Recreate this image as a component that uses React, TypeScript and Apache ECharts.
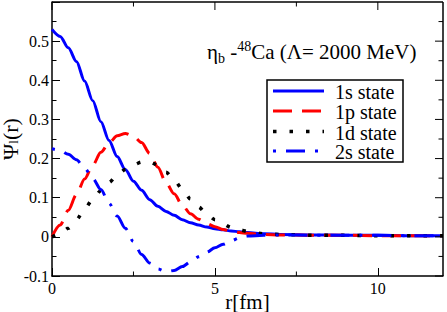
import React, { useEffect, useRef } from 'react';
import * as echarts from 'echarts';

// radial grid r [fm]
const rGrid = [0, 0.25, 0.5, 0.75, 1, 1.25, 1.5, 1.75, 2, 2.25, 2.5, 2.75, 3, 3.25, 3.5, 3.75, 4, 4.25, 4.5, 4.75, 5, 5.25, 5.5, 5.75, 6, 6.5, 7, 8, 9, 10, 11, 12];

const psi1s = [0.530, 0.512, 0.483, 0.448, 0.398, 0.348, 0.294, 0.246, 0.205, 0.172, 0.142, 0.119, 0.095, 0.078, 0.065, 0.055, 0.044, 0.036, 0.030, 0.025, 0.021, 0.018, 0.015, 0.013, 0.011, 0.008, 0.006, 0.005, 0.004, 0.004, 0.003, 0.003];
const psi1p = [0, 0.030, 0.068, 0.108, 0.148, 0.183, 0.216, 0.240, 0.258, 0.264, 0.257, 0.241, 0.213, 0.178, 0.138, 0.110, 0.081, 0.059, 0.045, 0.034, 0.026, 0.019, 0.014, 0.011, 0.009, 0.006, 0.005, 0.004, 0.004, 0.003, 0.003, 0.003];
const psi1d = [0, 0.008, 0.022, 0.044, 0.071, 0.096, 0.118, 0.139, 0.157, 0.172, 0.184, 0.191, 0.192, 0.183, 0.165, 0.145, 0.122, 0.097, 0.076, 0.058, 0.044, 0.033, 0.024, 0.018, 0.014, 0.008, 0.006, 0.004, 0.004, 0.003, 0.003, 0.003];
const psi2s = [0.225, 0.221, 0.211, 0.197, 0.176, 0.149, 0.121, 0.086, 0.053, 0.022, -0.012, -0.045, -0.067, -0.082, -0.089, -0.086, -0.076, -0.064, -0.051, -0.039, -0.028, -0.019, -0.010, -0.003, 0.002, 0.004, 0.005, 0.004, 0.004, 0.004, 0.003, 0.003];

const seriesNames = ['1s state', '1p state', '1d state', '2s state'];
const seriesValues = [psi1s, psi1p, psi1d, psi2s];

// tick positions
const xMajorTicks = [0, 5, 10];
const xMinorTicks = [2.5, 7.5];
const yMajorTicks = [-0.1, 0, 0.1, 0.2, 0.3, 0.4, 0.5];
const yMinorTicks = [-0.05, 0.05, 0.15, 0.25, 0.35, 0.45, 0.55];

const FONT = "'Liberation Serif', serif";

const seriesStyles = [
  { color: '#0000ff', width: 3, dash: null as number[] | null },
  { color: '#ff0000', width: 3, dash: [19, 10] },
  { color: '#000000', width: 3.5, dash: [3.5, 13] },
  { color: '#0000ff', width: 3, dash: [3, 10, 19, 10] },
];

const X_MIN = 0, X_MAX = 12, Y_MIN = -0.1, Y_MAX = 0.6;
const GRID = { left: 52, top: 2, right: 4, bottom: 36 };
const W = 447, H = 312;
const MAJOR_LEN = 8, MINOR_LEN = 4.5;

function baseOption() {
  const tickStyle = { color: '#000', width: 1 };
  return {
    animation: false,
    backgroundColor: '#fff',
    grid: { ...GRID, containLabel: false, outerBoundsMode: 'none' },
    xAxis: {
      type: 'value', min: X_MIN, max: X_MAX, interval: 5, position: 'bottom',
      splitLine: { show: false },
      axisLine: { show: true, onZero: false, lineStyle: { color: '#000', width: 1.5 } },
      name: 'r[fm]', nameLocation: 'middle', nameGap: 15, nameMoveOverlap: false,
      nameTextStyle: { fontFamily: FONT, fontSize: 21, color: '#000' },
      axisTick: { show: true, inside: true, length: MAJOR_LEN, lineStyle: tickStyle },
      axisLabel: { show: true, margin: 4, fontFamily: FONT, fontSize: 16, color: '#000', showMaxLabel: false },
    },
    yAxis: {
      type: 'value', min: Y_MIN, max: Y_MAX, interval: 0.1, position: 'left',
      splitLine: { show: false },
      axisLine: { show: true, onZero: false, lineStyle: { color: '#000', width: 1.5 } },
      name: '{a|Ψ}{s|l}{a|(r)}', nameLocation: 'middle', nameGap: 32, nameMoveOverlap: false,
      nameTextStyle: {
        fontFamily: FONT, color: '#000',
        rich: {
          a: { fontFamily: FONT, fontSize: 22, color: '#000', lineHeight: 20 },
          s: { fontFamily: FONT, fontSize: 13, color: '#000', verticalAlign: 'bottom', lineHeight: 20 },
        },
      },
      axisTick: { show: true, inside: true, length: MAJOR_LEN, lineStyle: tickStyle },
      minorTick: { show: true, splitNumber: 2, length: MINOR_LEN, lineStyle: tickStyle },
      axisLabel: {
        show: true, margin: 3, fontFamily: FONT, fontSize: 16, color: '#000', showMaxLabel: false,
        formatter: (v: number) => (Math.abs(v) < 1e-9 ? '0' : (Math.round(v * 10) / 10).toString()),
      },
    },
    series: seriesNames.map((name, i) => ({
      name,
      type: 'line',
      symbol: 'none',
      smooth: 0.3,
      smoothMonotone: 'x',
      clip: true,
      z: 2 + i,
      data: rGrid.map((r, j) => [r, seriesValues[i][j]]),
      lineStyle: {
        color: seriesStyles[i].color,
        width: seriesStyles[i].width,
        type: seriesStyles[i].dash || 'solid',
        cap: 'butt',
      },
      itemStyle: { color: seriesStyles[i].color },
    })),
  };
}

function buildGraphics(chart: echarts.ECharts) {
  const px = (x: number, y: number) => chart.convertToPixel({ gridIndex: 0 }, [x, y]) as number[];
  const [xl, yb] = px(X_MIN, Y_MIN);
  const [xr, yt] = px(X_MAX, Y_MAX);
  const g: any[] = [];
  const ln = (x1: number, y1: number, x2: number, y2: number, w = 1) => ({
    type: 'line', z: 90, silent: true,
    shape: { x1, y1, x2, y2 },
    style: { stroke: '#000', lineWidth: w },
  });

  // top and right frame lines
  g.push(ln(xl, yt, xr, yt, 1.5));
  g.push(ln(xr, yt, xr, yb, 1.5));

  // top ticks
  xMajorTicks.forEach((v) => { const [x] = px(v, Y_MAX); g.push(ln(x, yt, x, yt + MAJOR_LEN)); });
  xMinorTicks.forEach((v) => { const [x] = px(v, Y_MAX); g.push(ln(x, yt, x, yt + MINOR_LEN)); });
  // bottom minor ticks
  xMinorTicks.forEach((v) => { const [x] = px(v, Y_MIN); g.push(ln(x, yb, x, yb - MINOR_LEN)); });
  // right ticks
  yMajorTicks.forEach((v) => { const [, y] = px(X_MAX, v); g.push(ln(xr, y, xr - MAJOR_LEN, y)); });
  yMinorTicks.forEach((v) => { const [, y] = px(X_MAX, v); g.push(ln(xr, y, xr - MINOR_LEN, y)); });

  // annotation
  g.push({
    type: 'text', x: 207, y: 52, z: 100,
    style: {
      text: '{m|η}{s|b}{m| -}{p|48}{m|Ca (Λ= 2000 MeV)}',
      textVerticalAlign: 'middle', textAlign: 'left',
      fontFamily: FONT, fontSize: 21,
      rich: {
        m: { fontFamily: FONT, fontSize: 21, fill: '#000', lineHeight: 26 },
        s: { fontFamily: FONT, fontSize: 14, fill: '#000', verticalAlign: 'bottom', lineHeight: 26 },
        p: { fontFamily: FONT, fontSize: 14, fill: '#000', verticalAlign: 'top', lineHeight: 26 },
      },
    },
  });

  // legend box
  const rowY = [91, 111, 131.5, 151];
  g.push({
    type: 'rect', shape: { x: 267, y: 80, width: 136, height: 82 },
    style: { fill: '#fff', stroke: '#000', lineWidth: 1.5 }, z: 100,
  });
  seriesNames.forEach((n, i) => {
    const s = seriesStyles[i];
    g.push({
      type: 'line', shape: { x1: 273, y1: rowY[i], x2: 324, y2: rowY[i] },
      style: { stroke: s.color, lineWidth: s.width, lineDash: s.dash || undefined }, z: 101,
    });
    g.push({
      type: 'text', x: 335, y: rowY[i] + 1, z: 101,
      style: {
        text: n, fontFamily: FONT, fontSize: 20, fill: '#000',
        textVerticalAlign: 'middle', textAlign: 'left',
      },
    });
  });
  return g;
}

export default function App() {
  const ref = useRef<HTMLDivElement>(null);
  useEffect(() => {
    const chart = echarts.init(ref.current!, null, { renderer: 'svg' });
    chart.setOption(baseOption() as any);
    chart.setOption({ graphic: buildGraphics(chart) } as any);
    return () => chart.dispose();
  }, []);
  return <div ref={ref} style={{ position: 'fixed', left: 0, top: 0, width: W, height: H }} />;
}
